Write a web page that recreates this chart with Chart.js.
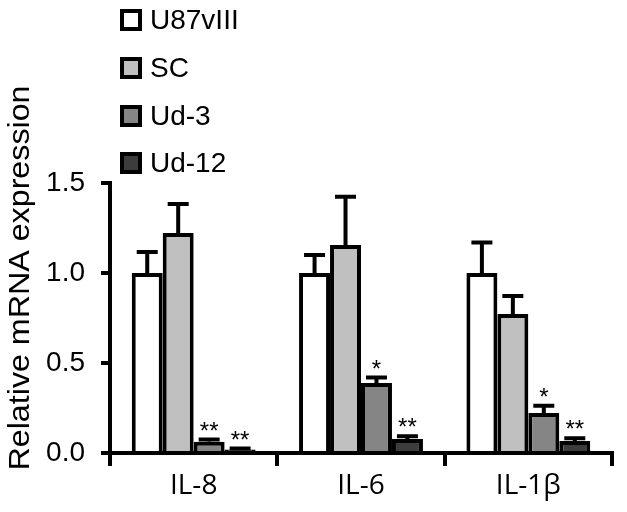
<!DOCTYPE html>
<html>
<head>
<meta charset="utf-8">
<script src="https://cdn.jsdelivr.net/npm/chart.js@4.4.1/dist/chart.umd.min.js"></script>
<style>
html,body{margin:0;padding:0;background:#fff;}
#wrap{width:627px;height:512px;position:relative;}
</style>
</head>
<body>
<div id="wrap"><canvas id="c"></canvas></div>
<script>
const categories = ['IL-8', 'IL-6', 'IL-1\u03b2'];
const seriesNames = ['U87vIII', 'SC', 'Ud-3', 'Ud-12'];
const u87Values = [1.0, 1.0, 1.0];
const scValues = [1.222, 1.156, 0.772];
const ud3Values = [0.063, 0.389, 0.222];
const ud12Values = [0.02, 0.078, 0.067];
const u87Err = [0.117, 0.10, 0.17];
const scErr = [0.161, 0.267, 0.10];
const ud3Err = [0.012, 0.03, 0.04];
const ud12Err = [0.005, 0.015, 0.015];
const u87Sig = ['', '', ''];
const scSig = ['', '', ''];
const ud3Sig = ['**', '*', '*'];
const ud12Sig = ['**', '**', '**'];
const yTicks = [0, 0.5, 1.0, 1.5];
const yTitle = 'Relative mRNA expression';

const colors = ['#ffffff', '#c0c0c0', '#858585', '#3c3c3c'];
const values = [u87Values, scValues, ud3Values, ud12Values];
const errs = [u87Err, scErr, ud3Err, ud12Err];
const sigs = [u87Sig, scSig, ud3Sig, ud12Sig];
const ARIAL = '"Liberation Sans", Arial, sans-serif';

const datasets = seriesNames.map((n, i) => ({
  label: n,
  data: values[i],
  errors: errs[i],
  sig: sigs[i],
  backgroundColor: colors[i],
  borderColor: '#000',
  borderWidth: 4,
  barPercentage: 1.0,
  categoryPercentage: 0.74
}));

const errorBarPlugin = {
  id: 'errbars',
  afterDatasetsDraw(chart) {
    const ctx = chart.ctx;
    const ys = chart.scales.y;
    ctx.save();
    chart.data.datasets.forEach((ds, di) => {
      const meta = chart.getDatasetMeta(di);
      meta.data.forEach((bar, j) => {
        const v = ds.data[j], e = ds.errors[j];
        const yTop = ys.getPixelForValue(v + e);
        ctx.strokeStyle = '#000';
        ctx.lineWidth = 4;
        ctx.lineCap = 'butt';
        ctx.beginPath();
        ctx.moveTo(bar.x, bar.y);
        ctx.lineTo(bar.x, yTop);
        ctx.moveTo(bar.x - 10.5, yTop);
        ctx.lineTo(bar.x + 10.5, yTop);
        ctx.stroke();
        if (ds.sig[j]) {
          ctx.fillStyle = '#000';
          ctx.font = '24px ' + ARIAL;
          ctx.textAlign = 'center';
          ctx.textBaseline = 'alphabetic';
          ctx.fillText(ds.sig[j], bar.x, yTop - 1);
        }
      });
    });
    ctx.restore();
  }
};

const legendPlugin = {
  id: 'customLegend',
  afterDraw(chart) {
    const ctx = chart.ctx;
    ctx.save();
    const rowY = [20, 68, 116, 163];
    chart.data.datasets.forEach((ds, i) => {
      const cy = rowY[i];
      ctx.fillStyle = ds.backgroundColor;
      ctx.fillRect(122, cy - 9, 18, 18);
      ctx.strokeStyle = '#000';
      ctx.lineWidth = 4;
      ctx.strokeRect(122, cy - 9, 18, 18);
      ctx.fillStyle = '#000';
      ctx.font = '28px ' + ARIAL;
      ctx.textAlign = 'left';
      ctx.textBaseline = 'middle';
      ctx.fillText(ds.label, 150, cy + 1);
    });
    // y-axis title
    ctx.font = '29px ' + ARIAL;
    const w = ctx.measureText(yTitle).width;
    ctx.translate(21, 278);
    ctx.rotate(-Math.PI / 2);
    ctx.scale(385 / w, 1);
    ctx.textAlign = 'center';
    ctx.textBaseline = 'middle';
    ctx.fillText(yTitle, 0, 0);
    ctx.restore();
  }
};

new Chart(document.getElementById('c'), {
  type: 'bar',
  data: { labels: categories, datasets },
  options: {
    responsive: true,
    maintainAspectRatio: false,
    animation: false,
    layout: { padding: { top: 183, right: 15, left: 0, bottom: 0 } },
    plugins: { legend: { display: false }, tooltip: { enabled: false } },
    scales: {
      x: {
        afterFit(s) { s.height = 59; },
        grid: { display: true, drawOnChartArea: false, drawTicks: true, tickLength: 13, color: '#000', lineWidth: 4, offset: true },
        border: { display: true, color: '#000', width: 4 },
        ticks: { color: '#000', font: { family: '"Open Sans", sans-serif', size: 28 }, padding: 3 }
      },
      y: {
        min: 0, max: 1.5,
        afterFit(s) { s.width = 110; },
        afterBuildTicks(s) { s.ticks = yTicks.map(v => ({ value: v })); },
        grid: { display: true, drawOnChartArea: false, drawTicks: true, tickLength: 9, color: '#000', lineWidth: 4 },
        border: { display: true, color: '#000', width: 4 },
        ticks: { color: '#000', font: { family: ARIAL, size: 28 }, padding: 16, callback: v => Number(v).toFixed(1) },
        title: { display: false }
      }
    }
  },
  plugins: [errorBarPlugin, legendPlugin]
});
</script>
</body>
</html>
